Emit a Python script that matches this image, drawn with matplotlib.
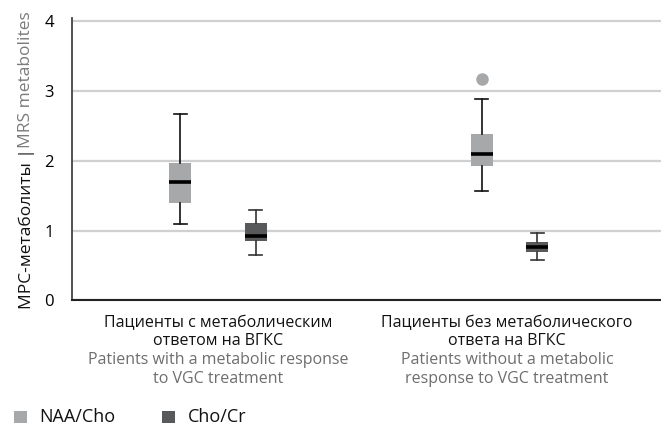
import matplotlib.pyplot as plt
import matplotlib.transforms as mtransforms
from matplotlib.patches import Rectangle

# данные (оценка по рисунку)
groups_ru = ["Пациенты с метаболическим\nответом на ВГКС",
             "Пациенты без метаболического\nответа на ВГКС"]
groups_en = ["Patients with a metabolic response\nto VGC treatment",
             "Patients without a metabolic\nresponse to VGC treatment"]
series = ["NAA/Cho", "Cho/Cr"]

# min, q1, median, q3, max
naa_cho = [(1.09, 1.39, 1.70, 1.97, 2.67), (1.57, 1.93, 2.10, 2.39, 2.89)]
cho_cr = [(0.65, 0.85, 0.93, 1.11, 1.29), (0.58, 0.70, 0.77, 0.84, 0.96)]
naa_cho_outliers = [[], [3.17]]
cho_cr_outliers = [[], []]

positions_naa = [0.869, 1.913]
positions_cho = [1.131, 2.104]
group_pos = [1.0, 2.0]

light = "#a7a8aa"
dark = "#58595b"

plt.rcParams['font.family'] = ['Open Sans', 'DejaVu Sans']

fig = plt.figure(figsize=(6.61, 4.25), dpi=100)
ax = fig.add_axes([0.109, 0.2932, 0.891, 0.6645])


def make_stats(vals, fliers):
    lo, q1, med, q3, hi = vals
    return {"whislo": lo, "q1": q1, "med": med, "q3": q3, "whishi": hi,
            "fliers": fliers}


for data, outl, pos, col, wcol in [
        (naa_cho, naa_cho_outliers, positions_naa, light, "#111111"),
        (cho_cr, cho_cr_outliers, positions_cho, dark, "#333333")]:
    stats = [make_stats(v, o) for v, o in zip(data, outl)]
    ax.bxp(stats, positions=pos, widths=0.076, patch_artist=True,
           showfliers=True,
           boxprops=dict(facecolor=col, edgecolor=col, linewidth=0),
           medianprops=dict(color="black", linewidth=2.6),
           whiskerprops=dict(color=wcol, linewidth=1.2),
           capprops=dict(color=wcol, linewidth=1.2),
           capwidths=0.045,
           flierprops=dict(marker="o", markerfacecolor=light,
                           markeredgecolor=light, markersize=8),
           zorder=3)

ax.set_xlim(0.495, 2.533)
ax.set_ylim(0, 4.05)
ax.set_yticks([0, 1, 2, 3, 4])
ax.set_yticklabels(["0", "1", "2", "3", "4"], fontsize=12)
ax.tick_params(axis="y", length=0, pad=13)
ax.set_xticks([])
ax.yaxis.grid(True, color="#d0d0d0", linewidth=1.6, zorder=0)
ax.set_axisbelow(True)

for s in ["top", "right"]:
    ax.spines[s].set_visible(False)
ax.spines["left"].set_color("#444444")
ax.spines["left"].set_linewidth(1.3)
ax.spines["bottom"].set_color("#222222")
ax.spines["bottom"].set_linewidth(1.5)

# подписи групп
tr = mtransforms.blended_transform_factory(ax.transData, fig.transFigure)
for gx, ru, en in zip(group_pos, groups_ru, groups_en):
    ax.text(gx, 0.259, ru, ha="center", va="top", fontsize=11.5,
            color="#111111", linespacing=1.19, transform=tr)
    ax.text(gx, 0.171, en, ha="center", va="top", fontsize=11.5,
            color="#6d6e70", linespacing=1.19, transform=tr)

# подпись оси Y (две части, разные цвета)
fig.text(0.04, 0.273, "МРС-метаболиты | ", rotation=90, ha="center",
         va="bottom", fontsize=12.5, color="#111111")
fig.text(0.04, 0.652, "MRS metabolites", rotation=90, ha="center",
         va="bottom", fontsize=12.5, color="#7a7b7d")

# легенда
for lx, name, col in [(0.021, series[0], light), (0.245, series[1], dark)]:
    fig.patches.append(Rectangle((lx, 0.004), 0.0197, 0.0282,
                                 transform=fig.transFigure,
                                 facecolor=col, edgecolor="none"))
    fig.text(lx + 0.039, 0.018, name, ha="left", va="center",
             fontsize=13, color="#111111")

fig.savefig("out.png", dpi=100)
